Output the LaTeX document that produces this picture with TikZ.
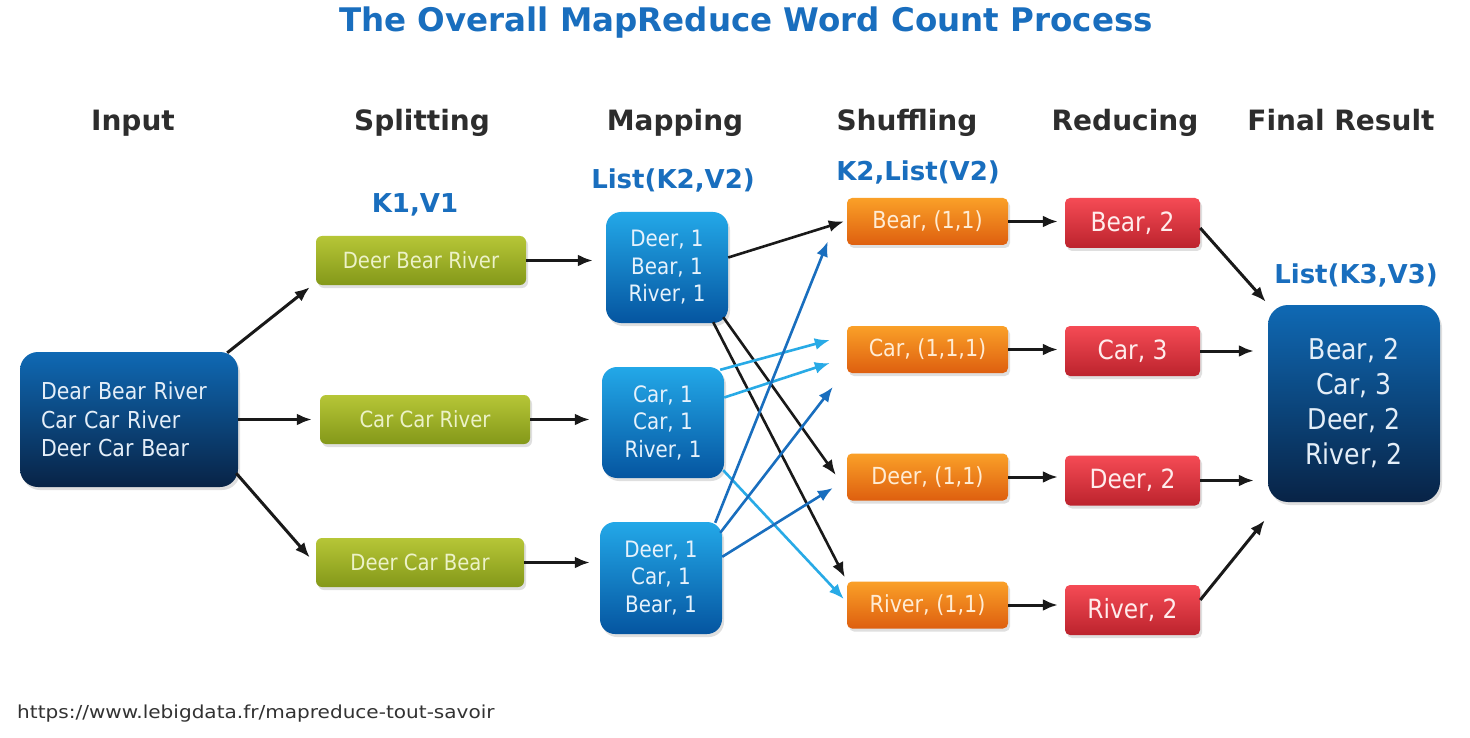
\documentclass[tikz,border=0pt]{standalone}
\usepackage{fontspec}
\setmainfont{DejaVu Sans}
\newfontfamily\boxfont[FakeStretch=0.88]{DejaVu Sans}
\newfontfamily\urlfont[FakeStretch=1.12]{DejaVu Sans}
\usetikzlibrary{arrows.meta,shadows}

\definecolor{titleblue}{RGB}{25,110,190}
\definecolor{headgray}{RGB}{45,45,45}
\definecolor{navytop}{RGB}{15,105,180}
\definecolor{navybot}{RGB}{8,35,70}
\definecolor{greentop}{RGB}{182,198,55}
\definecolor{greenbot}{RGB}{132,152,25}
\definecolor{maptop}{RGB}{35,168,232}
\definecolor{mapbot}{RGB}{5,85,160}
\definecolor{orangetop}{RGB}{250,160,40}
\definecolor{orangebot}{RGB}{222,95,15}
\definecolor{redtop}{RGB}{245,75,85}
\definecolor{redbot}{RGB}{188,35,45}
\definecolor{arrowblack}{RGB}{25,25,25}
\definecolor{arrowlight}{RGB}{40,170,230}
\definecolor{arrowblue}{RGB}{25,110,190}

\tikzset{
	box/.style={inner sep=0pt, align=center, drop shadow={opacity=0.25, shadow xshift=2pt, shadow yshift=-3pt}},
	inputbox/.style={box, rounded corners=18pt, top color=navytop, bottom color=navybot, text={rgb,255:red,228;green,238;blue,248}, minimum width=218pt, minimum height=135pt, text width=176pt, align=left, font=\boxfont\fontsize{23.3}{28.5}\selectfont},
	splitbox/.style={box, rounded corners=6pt, top color=greentop, bottom color=greenbot, text={rgb,255:red,236;green,242;blue,200}, minimum width=210pt, minimum height=49pt, font=\boxfont\fontsize{22.3}{26}\selectfont},
	mapbox/.style={box, rounded corners=15pt, top color=maptop, bottom color=mapbot, text={rgb,255:red,230;green,242;blue,252}, minimum width=122pt, minimum height=111pt, font=\boxfont\fontsize{22.6}{27.5}\selectfont},
	shufbox/.style={box, rounded corners=5pt, top color=orangetop, bottom color=orangebot, text={rgb,255:red,255;green,236;blue,212}, minimum width=161pt, minimum height=47pt, font=\boxfont\fontsize{23.5}{26}\selectfont},
	redbox/.style={box, rounded corners=5pt, top color=redtop, bottom color=redbot, text={rgb,255:red,255;green,236;blue,236}, minimum width=135pt, minimum height=50pt, font=\boxfont\fontsize{26.5}{29}\selectfont},
	finalbox/.style={box, rounded corners=20pt, top color=navytop, bottom color=navybot, text={rgb,255:red,228;green,238;blue,248}, minimum width=172pt, minimum height=197pt, font=\boxfont\fontsize{28.6}{35}\selectfont},
	head/.style={inner sep=0pt, anchor=base, text=headgray, font=\bfseries\fontsize{28}{32}\selectfont},
	kvlabel/.style={inner sep=0pt, text=titleblue, font=\bfseries\fontsize{26}{30}\selectfont},
	flow/.style={line width=3pt, draw=arrowblack, -{Latex[length=15pt,width=12pt]}},
	cross/.style={flow, line width=2.6pt},
	crosslight/.style={cross, draw=arrowlight},
	crossblue/.style={cross, draw=arrowblue}
}

\begin{document}
\begin{tikzpicture}[x=1pt,y=-1pt]
	%%%%% START %%%%%
	\fill[white] (0,0) rectangle (1470,738);
	\useasboundingbox (0,0) rectangle (1470,738);
	
	\node[inner sep=0pt, text=titleblue, font=\bfseries\fontsize{32.5}{36}\selectfont] (title) at (746,23) {The Overall MapReduce Word Count Process};
	
	\node[head] (hinput) at (133,131) {Input};
	\node[head] (hsplit) at (422,131) {Splitting};
	\node[head] (hmap) at (675,131) {Mapping};
	\node[head] (hshuf) at (907,131) {Shuffling};
	\node[head] (hred) at (1125,131) {Reducing};
	\node[head] (hfinal) at (1341,131) {Final Result};
	
	\node[kvlabel] (kv1) at (415,205) {K1,V1};
	\node[kvlabel] (kv2) at (673,180) {List(K2,V2)};
	\node[kvlabel] (kv2list) at (918,172) {K2,List(V2)};
	\node[kvlabel] (kv3) at (1356,275) {List(K3,V3)};
	
	\node[inputbox] (in) at (129,419.5) {Dear Bear River\\Car Car River\\Deer Car Bear};
	
	\node[splitbox] (sp1) at (421,260.5) {Deer Bear River};
	\node[splitbox] (sp2) at (425,419.5) {Car Car River};
	\node[splitbox, minimum width=208pt] (sp3) at (420,562.5) {Deer Car Bear};
	
	\node[mapbox] (mp1) at (667,267.5) {Deer, 1\\Bear, 1\\River, 1};
	\node[mapbox] (mp2) at (663,422.5) {Car, 1\\Car, 1\\River, 1};
	\node[mapbox, minimum height=112pt] (mp3) at (661,578) {Deer, 1\\Car, 1\\Bear, 1};
	
	\node[shufbox] (sh1) at (927.5,221.5) {Bear, (1,1)};
	\node[shufbox] (sh2) at (927.5,349.5) {Car, (1,1,1)};
	\node[shufbox] (sh3) at (927.5,477) {Deer, (1,1)};
	\node[shufbox] (sh4) at (927.5,605) {River, (1,1)};
	
	\node[redbox] (rd1) at (1132.5,223) {Bear, 2};
	\node[redbox] (rd2) at (1132.5,351) {Car, 3};
	\node[redbox] (rd3) at (1132.5,480.5) {Deer, 2};
	\node[redbox] (rd4) at (1132.5,610) {River, 2};
	
	\node[finalbox] (fin) at (1354,403.5) {Bear, 2\\Car, 3\\Deer, 2\\River, 2};
	
	\node[inner sep=0pt, anchor=west, text={rgb,255:red,50;green,50;blue,50}, font=\urlfont\fontsize{17.9}{20}\selectfont] (src) at (17,714) {https://www.lebigdata.fr/mapreduce-tout-savoir};
	
	% input -> splitting
	\draw[flow] ([xshift=-11pt,yshift=-1pt]in.north east) -- ([xshift=-6pt,yshift=-2pt]sp1.south west);
	\draw[flow] (in.east) -- ([xshift=-8pt]sp2.west);
	\draw[flow] ([xshift=-2pt,yshift=14pt]in.south east) -- ([xshift=-6pt,yshift=5pt]sp3.west);
	
	% splitting -> mapping
	\draw[flow, shorten >=13pt] (sp1.east) -- (sp1.east -| mp1.west);
	\draw[flow, shorten >=12pt] (sp2.east) -- (sp2.east -| mp2.west);
	\draw[flow, shorten >=10pt] (sp3.east) -- (sp3.east -| mp3.west);
	
	% mapping -> shuffling
	\draw[cross] ([yshift=10pt]mp1.east) -- ([xshift=-3pt]sh1.west);
	\draw[cross] ([xshift=-5pt,yshift=6pt]mp1.south east) -- ([xshift=-11pt,yshift=2pt]sh3.west);
	\draw[cross] ([xshift=-15pt,yshift=1pt]mp1.south east) -- ([xshift=-2pt,yshift=4pt]sh4.north west);
	\draw[crosslight] ([xshift=-4pt,yshift=-3pt]mp2.north east) -- ([xshift=-17pt,yshift=9.5pt]sh2.west);
	\draw[crosslight] ([yshift=25pt]mp2.east) -- ([xshift=-17pt,yshift=-13.5pt]sh2.west);
	\draw[crosslight] ([xshift=-1pt,yshift=8pt]mp2.south east) -- ([xshift=-3pt,yshift=6pt]sh4.west);
	\draw[crossblue] ([xshift=-7pt,yshift=-1pt]mp3.north east) -- ([xshift=-19pt,yshift=-20pt]sh1.west);
	\draw[crossblue] ([xshift=-2pt,yshift=-11pt]mp3.north east) -- ([xshift=-14pt,yshift=-37.5pt]sh2.west);
	\draw[crossblue] ([yshift=-35pt]mp3.north east) -- ([xshift=-14pt,yshift=-11pt]sh3.west);
	
	% shuffling -> reducing
	\draw[flow, shorten >=7pt] (sh1.east) -- (sh1.east -| rd1.west);
	\draw[flow, shorten >=7pt] (sh2.east) -- (sh2.east -| rd2.west);
	\draw[flow, shorten >=7pt] (sh3.east) -- (sh3.east -| rd3.west);
	\draw[flow, shorten >=7pt] (sh4.east) -- (sh4.east -| rd4.west);
	
	% reducing -> final result
	\draw[flow] ([yshift=-5pt]rd1.east) -- ([xshift=-2pt,yshift=3pt]fin.north west);
	\draw[flow, shorten >=14pt] (rd2.east) -- (rd2.east -| fin.west);
	\draw[flow, shorten >=14pt] (rd3.east) -- (rd3.east -| fin.west);
	\draw[flow] ([yshift=10pt]rd4.east) -- ([xshift=-3pt,yshift=-18pt]fin.south west);
	
	%%%%% END %%%%%
\end{tikzpicture}
\end{document}
